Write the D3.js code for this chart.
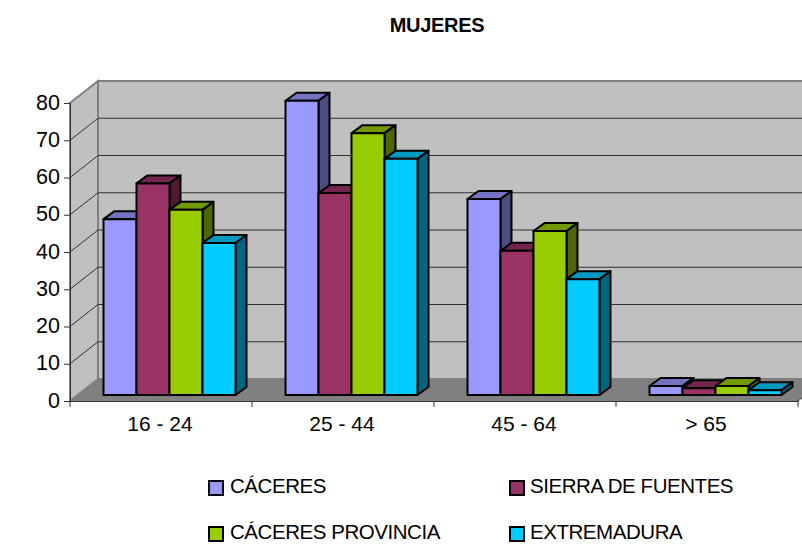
<!DOCTYPE html>
<html>
<head>
<meta charset="utf-8">
<script src="https://cdn.jsdelivr.net/npm/d3@7"></script>
<style>
  html, body { margin: 0; padding: 0; background: #fff; }
  svg { display: block; }
  text { font-family: "Liberation Sans", Arial, sans-serif; fill: #000; }
</style>
</head>
<body>
<svg id="chart" width="802" height="545"></svg>
<script>
const title = 'MUJERES'
const categories = ['16 - 24', '25 - 44', '45 - 64', '> 65']
const seriesNames = ['CÁCERES', 'SIERRA DE FUENTES', 'CÁCERES PROVINCIA', 'EXTREMADURA']
const caceres = [47.2, 79, 52.6, 2.4]
const sierra = [56.8, 54.2, 38.7, 1.8]
const provincia = [49.7, 70.3, 44, 2.4]
const extremadura = [40.8, 63.4, 31.1, 1.3]
const seriesValues = [caceres, sierra, provincia, extremadura]
const seriesColors = ['#9999ff', '#993366', '#99cc00', '#00ccff']
const yTicks = [0, 10, 20, 30, 40, 50, 60, 70, 80]

function shade(color, k) {
  const c = d3.rgb(color)
  return d3.rgb(c.r * k, c.g * k, c.b * k).formatHex()
}

function drawChart() {
  const svg = d3.select('#chart')
  svg.selectAll('*').remove()

  const left = 70, right = 798, bottom = 401, top = 103
  const wallDx = 28, wallDy = -22
  const barDx = 11, barDy = -8
  const barBase = 395

  const x0 = d3.scaleBand().domain(categories).range([left, right])
  const x1 = d3.scaleBand().domain(d3.range(seriesNames.length)).range([33.5, 165.5])
  const y = d3.scaleLinear().domain([0, 80]).range([bottom, top])
  const yBar = d3.scaleLinear().domain([0, 80]).range([barBase, barBase - (bottom - top)])

  const poly = pts => pts.map(p => p.join(',')).join(' ')

  // walls and floor
  svg.append('polygon')
    .attr('points', poly([[left + wallDx, top + wallDy], [right + wallDx, top + wallDy], [right + wallDx, bottom + wallDy], [left + wallDx, bottom + wallDy]]))
    .attr('fill', '#c0c0c0').attr('stroke', '#808080').attr('stroke-width', 2)
  svg.append('polygon')
    .attr('points', poly([[left, top], [left + wallDx, top + wallDy], [left + wallDx, bottom + wallDy], [left, bottom]]))
    .attr('fill', '#c0c0c0').attr('stroke', '#808080').attr('stroke-width', 2)
  svg.append('polygon')
    .attr('points', poly([[left, bottom], [left + wallDx, bottom + wallDy], [right + wallDx, bottom + wallDy], [right, bottom]]))
    .attr('fill', '#808080')

  // gridlines on the back wall and the side wall
  const grid = svg.append('g').attr('stroke', '#333').attr('stroke-width', 1).attr('fill', 'none')
  grid.selectAll('line.back')
    .data(yTicks.slice(1, -1))
    .join('line')
    .attr('class', 'back')
    .attr('x1', left + wallDx).attr('x2', right + wallDx)
    .attr('y1', d => y(d) + wallDy).attr('y2', d => y(d) + wallDy)
  grid.selectAll('line.side')
    .data(yTicks.slice(1, -1))
    .join('line')
    .attr('class', 'side')
    .attr('x1', left).attr('x2', left + wallDx)
    .attr('y1', d => y(d)).attr('y2', d => y(d) + wallDy)

  // bars, left to right so the nearer ones cover the sides
  const bars = svg.append('g').attr('stroke', '#000').attr('stroke-width', 2).attr('stroke-linejoin', 'round')
  categories.forEach((cat, i) => {
    seriesValues.forEach((values, s) => {
      const xa = x0(cat) + x1(s)
      const xb = xa + x1.bandwidth()
      const yt = yBar(values[i])
      const g = bars.append('g')
      g.append('polygon')
        .attr('points', poly([[xa, yt], [xa + barDx, yt + barDy], [xb + barDx, yt + barDy], [xb, yt]]))
        .attr('fill', shade(seriesColors[s], 0.75))
      g.append('polygon')
        .attr('points', poly([[xb, yt], [xb + barDx, yt + barDy], [xb + barDx, barBase + barDy], [xb, barBase]]))
        .attr('fill', shade(seriesColors[s], 0.5))
      g.append('rect')
        .attr('x', xa).attr('y', yt)
        .attr('width', xb - xa).attr('height', barBase - yt)
        .attr('fill', seriesColors[s])
    })
  })

  // y axis
  const yAxis = svg.append('g')
    .attr('transform', `translate(${left},0)`)
    .call(d3.axisLeft(y).tickValues(yTicks).tickSize(6).tickPadding(4))
  yAxis.select('.domain').attr('stroke', '#333').attr('stroke-width', 1)
  yAxis.selectAll('.tick line').attr('stroke', '#333')
  yAxis.selectAll('.tick text').attr('font-size', 21.5).attr('dy', '0.28em').style('font-family', '"Liberation Sans"').attr('fill', '#000')

  // x axis, ticks sit on the band edges
  const xAxis = svg.append('g')
    .attr('transform', `translate(0,${bottom})`)
    .call(d3.axisBottom(x0).tickSize(0).tickPadding(15))
  xAxis.select('.domain').attr('stroke', '#333').attr('stroke-width', 1)
  xAxis.selectAll('.tick text').attr('font-size', 21).attr('dx', -1).style('font-family', '"Liberation Sans"').attr('fill', '#000')
  xAxis.selectAll('line.edge')
    .data(categories.map(c => x0(c)).concat([right]))
    .join('line')
    .attr('class', 'edge')
    .attr('x1', d => d).attr('x2', d => d)
    .attr('y1', 0).attr('y2', 6)
    .attr('stroke', '#333')
  svg.append('line')
    .attr('x1', right).attr('x2', right + wallDx)
    .attr('y1', bottom).attr('y2', bottom + wallDy)
    .attr('stroke', '#333')

  svg.append('text')
    .attr('x', 437).attr('y', 32)
    .attr('text-anchor', 'middle')
    .attr('font-size', 20)
    .attr('font-weight', 'bold')
    .attr('letter-spacing', -0.3)
    .text(title)

  // legend
  const legendX = [209, 510], legendY = [481, 527]
  const legend = svg.append('g')
  seriesNames.forEach((name, i) => {
    const lx = legendX[i % 2], ly = legendY[Math.floor(i / 2)]
    legend.append('rect')
      .attr('x', lx).attr('y', ly)
      .attr('width', 14).attr('height', 14)
      .attr('fill', seriesColors[i])
      .attr('stroke', '#000').attr('stroke-width', 2)
    legend.append('text')
      .attr('x', lx + 21 - (i % 2 ? 1 : 0)).attr('y', ly + 12)
      .attr('font-size', 20.5)
      .attr('letter-spacing', -0.45)
      .text(name)
  })
}

document.addEventListener('DOMContentLoaded', drawChart, false)
</script>
</body>
</html>
